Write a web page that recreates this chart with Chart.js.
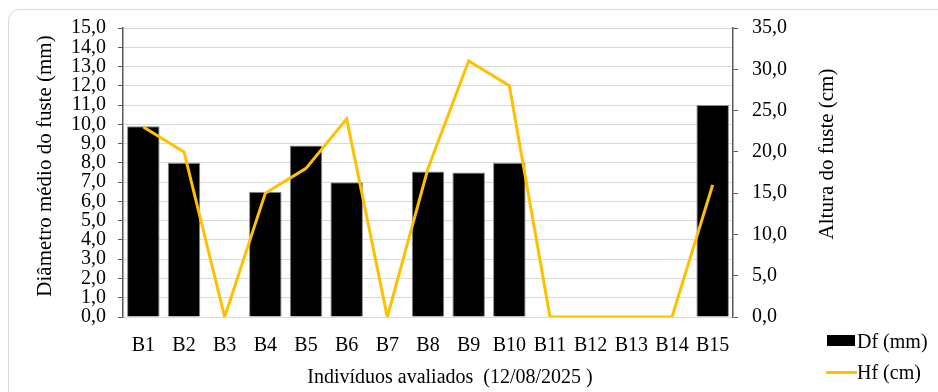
<!DOCTYPE html>
<html>
<head>
<meta charset="utf-8">
<script src="https://cdn.jsdelivr.net/npm/chart.js@4.4.0/dist/chart.umd.min.js"></script>
<style>
    body { margin: 0; background: #fff; }
    #wrap { position: relative; width: 938px; height: 392px; overflow: hidden; }
    #frame { position: absolute; left: 8px; top: 9px; width: 960px; height: 420px; border: 1.5px solid #d9d9d9; border-radius: 11px; }
    #chart { position: absolute; left: 0; top: 0; }
    .leg { position: absolute; font-family: 'Liberation Serif', 'Times New Roman', serif; font-size: 20px; color: #000; line-height: 20px; }
    .swatch { position: absolute; }
</style>
</head>
<body>
<div id="wrap">
    <div id="frame"></div>
    <canvas id="chart" width="938" height="392"></canvas>
    <!-- legend -->
    <div class="swatch" style="left:827px; top:335px; width:28px; height:11px; background:#000;"></div>
    <div class="leg" style="left:857px; top:331px;">Df (mm)</div>
    <div class="swatch" style="left:826px; top:371px; width:31px; height:3px; background:#FFC000;"></div>
    <div class="leg" style="left:857px; top:362px;">Hf (cm)</div>
</div>
<script>
// Data
const individuos = ['B1', 'B2', 'B3', 'B4', 'B5', 'B6', 'B7', 'B8', 'B9', 'B10', 'B11', 'B12', 'B13', 'B14', 'B15'];
const diametro = [9.9, 8.0, 0, 6.5, 8.9, 7.0, 0, 7.55, 7.5, 8.0, 0, 0, 0, 0, 11.0];   // Df (mm)
const altura = [23, 20, 0, 15, 18, 24, 0, 18, 31, 28, 0, 0, 0, 0, 16];                // Hf (cm)

const serif = "'Liberation Serif', 'Times New Roman', serif";
const axisColor = '#595959';
const gridColor = '#d9d9d9';
const leftTitle = 'Diâmetro médio do fuste (mm)';
const rightTitle = 'Altura do fuste (cm)';
const bottomTitle = 'Indivíduos avaliados  (12/08/2025 )';

// Number format with comma
function fmt(value) {
    return Number(value).toFixed(1).replace('.', ',');
}

// Axis titles drawn by hand so both vertical ones read bottom to top
function drawText(c, text, x, y, size, rotate) {
    c.save();
    c.translate(x, y);
    if (rotate) c.rotate(-Math.PI / 2);
    c.font = size + 'px ' + serif;
    c.fillStyle = '#000';
    c.textAlign = 'center';
    c.textBaseline = 'middle';
    c.fillText(text, 0, 0);
    c.restore();
}

const titlesPlugin = {
    id: 'axisTitles',
    afterDraw(chart) {
        const c = chart.ctx;
        drawText(c, leftTitle, 45, 166, 21, true);
        drawText(c, rightTitle, 827, 154, 21, true);
        drawText(c, bottomTitle, 450, 378, 20, false);
    }
};

const ctx = document.getElementById('chart').getContext('2d');

new Chart(ctx, {
    type: 'bar',
    data: {
        labels: individuos,
        datasets: [
            {
                type: 'line',
                label: 'Hf (cm)',
                data: altura,
                yAxisID: 'y1',
                borderColor: '#FFC000',
                borderWidth: 3,
                pointRadius: 0,
                tension: 0,
                order: 0
            },
            {
                type: 'bar',
                label: 'Df (mm)',
                data: diametro,
                yAxisID: 'y',
                backgroundColor: '#000000',
                borderColor: '#8c8c8c',
                borderWidth: 1,
                barPercentage: 0.8,
                categoryPercentage: 1.0,
                order: 1
            }
        ]
    },
    options: {
        responsive: false,
        animation: false,
        layout: {
            padding: { left: 25, top: 28, right: 95, bottom: 0 }
        },
        plugins: {
            legend: { display: false },
            tooltip: { enabled: false }
        },
        scales: {
            x: {
                grid: { display: false },
                border: { display: true, color: gridColor, width: 1 },
                ticks: {
                    color: '#000',
                    padding: 9,
                    font: { family: serif, size: 20 },
                    maxRotation: 0,
                    autoSkip: false
                },
                afterFit: function(scale) { scale.height = 75; }
            },
            y: {
                position: 'left',
                min: 0,
                max: 15,
                ticks: {
                    stepSize: 1,
                    autoSkip: false,
                    color: '#000',
                    padding: 12,
                    font: { family: serif, size: 20 },
                    callback: function(value) { return fmt(value); }
                },
                grid: {
                    color: gridColor,
                    lineWidth: 1,
                    tickColor: axisColor,
                    tickLength: 5
                },
                border: { color: axisColor, width: 1.5 },
                afterFit: function(scale) { scale.width = 98; }
            },
            y1: {
                position: 'right',
                min: 0,
                max: 35,
                ticks: {
                    stepSize: 5,
                    autoSkip: false,
                    color: '#000',
                    padding: 14,
                    font: { family: serif, size: 20 },
                    callback: function(value) { return fmt(value); }
                },
                grid: {
                    drawOnChartArea: false,
                    tickColor: axisColor,
                    tickLength: 5
                },
                border: { color: axisColor, width: 1.5 },
                afterFit: function(scale) { scale.width = 110; }
            }
        }
    },
    plugins: [titlesPlugin]
});
</script>
</body>
</html>
